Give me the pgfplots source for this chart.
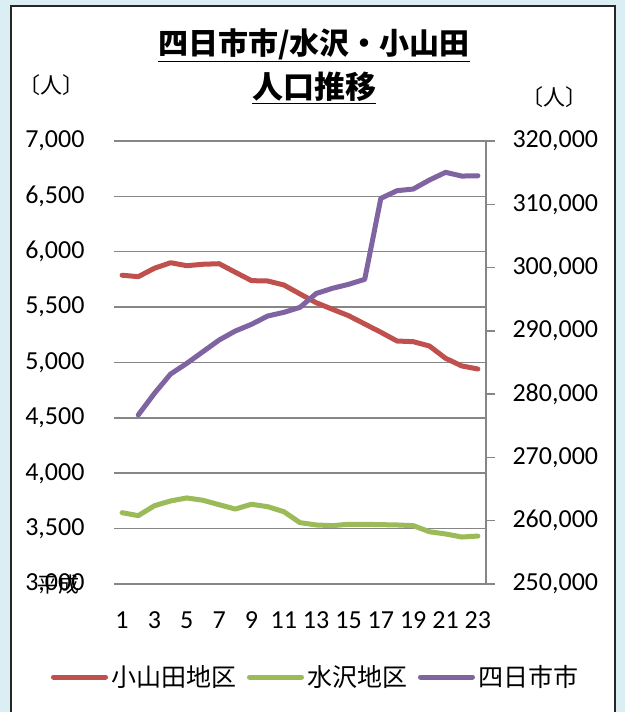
\documentclass[border=0pt]{standalone}
\usepackage{pgfplots}
\pgfplotsset{compat=1.18}
\usepackage{fontspec}
\setmainfont{Carlito}
\newfontfamily\jp{Noto Sans CJK JP}
\definecolor{bgblue}{RGB}{218,238,243}
\definecolor{cred}{RGB}{192,80,77}
\definecolor{cgreen}{RGB}{155,187,89}
\definecolor{cpurple}{RGB}{128,100,162}
\definecolor{cgrid}{RGB}{134,134,134}
\begin{document}
\begin{tikzpicture}[x=1pt,y=1pt]
\useasboundingbox (0,0) rectangle (625,712);
\fill[bgblue] (0,0) rectangle (625,712);
\filldraw[fill=white,draw=black!85,line width=2pt] (11,-10) rectangle (615,706);
\node[font=\jp\bfseries\fontsize{30}{34}\selectfont] at (314,667) {\underline{四日市市/水沢・小山田}};
\node[font=\jp\bfseries\fontsize{31}{34}\selectfont] at (314,624) {\underline{人口推移}};
\node[font=\jp\fontsize{22}{26}\selectfont] at (51,627) {〔人〕};
\node[font=\jp\fontsize{22}{26}\selectfont] at (554,615) {〔人〕};
\begin{axis}[
  at={(114pt,128pt)}, anchor=south west,
  scale only axis, width=372pt, height=443pt,
  xmin=0.5, xmax=23.5, ymin=3000, ymax=7000,
  xtick={1,3,...,23}, ytick={3000,3500,...,7000},
  axis line style={draw=none},
  major tick length=0pt,
  ymajorgrids, grid style={cgrid, line width=1.5pt},
  /pgf/number format/fixed,
  /pgf/number format/assume math mode=true,
  /pgf/number format/1000 sep={,},
  ticklabel style={font=\fontsize{26}{31}\selectfont},
  yticklabel style={xshift=-26pt},
  xticklabel style={yshift=-24pt},
  clip=false,
]
\addplot[cred, line width=5pt, line join=round, line cap=round] coordinates {
(1,5788) (2,5775) (3,5851) (4,5901) (5,5874) (6,5887) (7,5892) (8,5815) (9,5739) (10,5736) (11,5700) (12,5619) (13,5540) (14,5481) (15,5423) (16,5348) (17,5273) (18,5194) (19,5188) (20,5149) (21,5038) (22,4969) (23,4941)};
\addplot[cgreen, line width=5pt, line join=round, line cap=round] coordinates {
(1,3644) (2,3617) (3,3707) (4,3750) (5,3777) (6,3756) (7,3716) (8,3677) (9,3720) (10,3698) (11,3653) (12,3554) (13,3533) (14,3527) (15,3539) (16,3539) (17,3536) (18,3533) (19,3527) (20,3472) (21,3452) (22,3424) (23,3433)};
\end{axis}
\begin{axis}[
  at={(114pt,128pt)}, anchor=south west,
  scale only axis, width=372pt, height=443pt,
  xmin=0.5, xmax=23.5, ymin=250000, ymax=320000,
  axis x line=none, axis y line*=right,
  y axis line style={cgrid, line width=1.5pt, -},
  ytick={250000,260000,...,320000},
  scaled y ticks=false,
  tick align=outside, major tick length=9pt,
  tick style={cgrid, line width=1.5pt},
  /pgf/number format/fixed,
  /pgf/number format/assume math mode=true,
  /pgf/number format/1000 sep={,},
  ticklabel style={font=\fontsize{26}{31}\selectfont},
  yticklabel style={xshift=14pt},
  legend columns=3,
  legend style={at={(rel axis cs:0.543,-0.21)}, anchor=center, draw=none, fill=none,
    font=\jp\fontsize{25}{30}\selectfont, column sep=2pt,
    /tikz/every even column/.append style={column sep=8pt}},
  legend image code/.code={\draw[#1, line width=5pt, line cap=round] (0pt,0pt) -- (52pt,0pt);},
  clip=false,
]
\addlegendimage{cred}
\addlegendentry{小山田地区}
\addlegendimage{cgreen}
\addlegendentry{水沢地区}
\addplot[cpurple, line width=5pt, line join=round, line cap=round] coordinates {
(2,276706) (3,280125) (4,283180) (5,284865) (6,286710) (7,288550) (8,289975) (9,291030) (10,292345) (11,292925) (12,293715) (13,295900) (14,296720) (15,297350) (16,298140) (17,310940) (18,312150) (19,312410) (20,313830) (21,315050) (22,314460) (23,314510)};
\addlegendentry{四日市市}
\end{axis}
\node[font=\jp\fontsize{21}{24}\selectfont] at (58,127) {平成};
\end{tikzpicture}
\end{document}
